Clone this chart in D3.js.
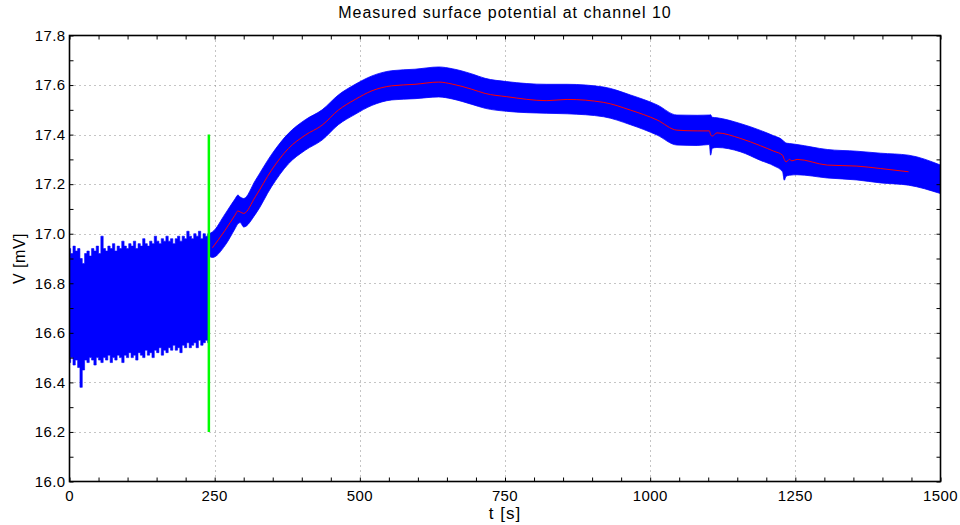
<!DOCTYPE html>
<html>
<head>
<meta charset="utf-8">
<script src="https://cdn.jsdelivr.net/npm/d3@7"></script>
<style>
  html, body { margin: 0; padding: 0; background: #fff; }
  svg { display: block; }
  text { font-family: "Liberation Sans", Helvetica, Arial, sans-serif; fill: #000; }
</style>
</head>
<body>
<svg id="chart" width="960" height="525"></svg>
<script>
// ---- Data ----
// Raw signal before the marker: sampled every 4 s, upper and lower envelope of the fast oscillation
const rawTime = d3.range(0, 241, 4);
const rawHigh = [16.94,16.92,16.95,16.93,16.94,16.90,16.88,16.92,16.93,16.91,16.94,16.93,16.95,16.92,16.99,16.94,
  16.93,16.95,16.94,16.96,16.93,16.95,16.94,16.97,16.95,16.94,16.96,16.95,16.97,16.94,16.96,16.95,16.98,16.96,16.95,
  16.97,16.96,16.99,16.97,16.96,16.98,16.97,16.99,16.97,16.98,16.96,16.98,16.99,16.97,16.99,16.98,17.01,16.99,16.98,
  17.00,16.99,17.01,16.98,17.00,16.99,17.00];
const rawLow = [16.48,16.50,16.47,16.49,16.46,16.38,16.45,16.49,16.48,16.50,16.49,16.47,16.50,16.49,16.48,16.50,
  16.49,16.51,16.48,16.50,16.49,16.51,16.50,16.48,16.51,16.50,16.52,16.50,16.51,16.49,16.52,16.51,16.50,16.53,16.51,
  16.52,16.50,16.53,16.52,16.54,16.51,16.53,16.52,16.54,16.53,16.55,16.53,16.54,16.52,16.55,16.54,16.56,16.54,16.55,
  16.56,16.54,16.57,16.55,16.56,16.57,16.56];

// Signal after the marker: envelope of the oscillation
const bandTime = [240,246,268,285,290,294,300,320,348,377,406,435,463,492,521,555,595,636,659,693,716,753,822,857,
  920,966,1012,1046,1081,1102,1104,1107,1115,1155,1190,1213,1228,1231,1234,1240,1253,1305,1356,1397,1445,1500];
const bandHigh = [17.000,17.007,17.080,17.140,17.156,17.148,17.142,17.215,17.320,17.405,17.460,17.500,17.560,17.603,
  17.637,17.658,17.664,17.673,17.666,17.645,17.627,17.614,17.603,17.603,17.592,17.560,17.520,17.479,17.478,17.479,
  17.480,17.470,17.468,17.445,17.417,17.395,17.378,17.371,17.366,17.364,17.360,17.340,17.333,17.325,17.317,17.277];
const bandLow = [16.910,16.904,16.953,17.020,17.040,17.045,17.027,17.078,17.190,17.282,17.337,17.378,17.440,17.482,
  17.518,17.540,17.545,17.552,17.544,17.522,17.506,17.494,17.486,17.484,17.472,17.440,17.398,17.358,17.356,17.360,
  17.317,17.345,17.348,17.331,17.296,17.274,17.250,17.216,17.232,17.236,17.238,17.225,17.217,17.205,17.196,17.162];

// Smoothed (mean) potential
const meanTime = [246,268,285,290,294,300,320,348,377,406,435,463,492,521,555,595,636,659,693,716,753,822,857,920,
  966,1012,1046,1081,1102,1104,1107,1115,1155,1190,1213,1228,1231,1234,1240,1244,1253,1305,1356,1397,1445];
const meanValue = [16.943,17.014,17.075,17.092,17.088,17.082,17.149,17.257,17.344,17.398,17.438,17.499,17.542,17.577,
  17.597,17.603,17.612,17.604,17.583,17.566,17.553,17.537,17.542,17.530,17.499,17.459,17.418,17.415,17.415,17.400,
  17.394,17.407,17.385,17.355,17.333,17.317,17.300,17.290,17.300,17.294,17.300,17.277,17.273,17.263,17.250];

// Marker line
const markerTime = 240;
const markerRange = [16.2, 17.4];

// Axes
const xTicks = [0, 250, 500, 750, 1000, 1250, 1500];
const yTicks = [16.0, 16.2, 16.4, 16.6, 16.8, 17.0, 17.2, 17.4, 17.6, 17.8];
const xMinor = d3.range(0, 1501, 50);
const yMinor = d3.range(160, 179, 1).map(v => v / 10);

const title = "Measured surface potential at channel 10";
const xLabel = "t [s]";
const yLabel = "V [mV]";

// ---- Layout ----
const L = 69.5, R = 940.5, T = 35.5, B = 481.5;
const svg = d3.select("#chart");
const x = d3.scaleLinear().domain([0, 1500]).range([L, R]);
const y = d3.scaleLinear().domain([16.0, 17.8]).range([B, T]);

// Grid (dotted)
const grid = svg.append("g").attr("stroke", "#8a8a8a").attr("stroke-width", 1).attr("stroke-dasharray", "1,4");
grid.selectAll("line.gx").data(xTicks.slice(1, -1)).join("line")
  .attr("x1", d => Math.round(x(d)) + 0.5).attr("x2", d => Math.round(x(d)) + 0.5)
  .attr("y1", T).attr("y2", B);
grid.selectAll("line.gy").data(yTicks.slice(1, -1)).join("line")
  .attr("x1", L).attr("x2", R)
  .attr("y1", d => Math.round(y(d)) + 0.5).attr("y2", d => Math.round(y(d)) + 0.5);

// Raw oscillating signal (dense vertical strokes -> stepped envelope)
const rawData = rawTime.map((t, i) => ({ t, hi: rawHigh[i], lo: rawLow[i] }));
svg.append("path").datum(rawData)
  .attr("fill", "#0000ff")
  .attr("stroke", "#0000ff").attr("stroke-width", 0.6)
  .attr("d", d3.area().curve(d3.curveStep).x(d => x(d.t)).y0(d => y(d.lo)).y1(d => y(d.hi)));

const bandData = bandTime.map((t, i) => ({ t, hi: bandHigh[i], lo: bandLow[i] }));
svg.append("path").datum(bandData)
  .attr("fill", "#0000ff")
  .attr("stroke", "#0000ff").attr("stroke-width", 0.8)
  .attr("d", d3.area().curve(d3.curveMonotoneX).x(d => x(d.t)).y0(d => y(d.lo)).y1(d => y(d.hi)));

// Mean line
const meanData = meanTime.map((t, i) => ({ t, v: meanValue[i] }));
svg.append("path").datum(meanData)
  .attr("fill", "none").attr("stroke", "#ff0000").attr("stroke-width", 1)
  .attr("d", d3.line().curve(d3.curveMonotoneX).x(d => x(d.t)).y(d => y(d.v)));

// Marker
svg.append("line")
  .attr("x1", x(markerTime)).attr("x2", x(markerTime))
  .attr("y1", y(markerRange[0])).attr("y2", y(markerRange[1]))
  .attr("stroke", "#00ff00").attr("stroke-width", 2.5);

// Axes with inward ticks on all four sides
const axisG = svg.append("g");
const tickLen = 4;
axisG.append("g").attr("transform", `translate(0,${B})`)
  .call(d3.axisBottom(x).tickValues(xMinor).tickSize(-tickLen).tickFormat(""));
axisG.append("g").attr("transform", `translate(0,${T})`)
  .call(d3.axisTop(x).tickValues(xMinor).tickSize(-tickLen).tickFormat(""));
axisG.append("g").attr("transform", `translate(${L},0)`)
  .call(d3.axisLeft(y).tickValues(yMinor).tickSize(-tickLen).tickFormat(""));
axisG.append("g").attr("transform", `translate(${R},0)`)
  .call(d3.axisRight(y).tickValues(yMinor).tickSize(-tickLen).tickFormat(""));
axisG.selectAll(".domain").remove();
axisG.selectAll(".tick line").attr("stroke", "#000").attr("stroke-width", 1);

// Outer box
svg.append("rect").attr("x", L).attr("y", T).attr("width", R - L).attr("height", B - T)
  .attr("fill", "none").attr("stroke", "#000").attr("stroke-width", 1.6);

// Tick labels
svg.append("g").selectAll("text").data(xTicks).join("text")
  .attr("x", d => x(d)).attr("y", 501)
  .attr("text-anchor", "middle").attr("font-size", 15).attr("letter-spacing", 0.4)
  .text(d => d3.format("d")(d));
svg.append("g").selectAll("text").data(yTicks).join("text")
  .attr("x", L - 4).attr("y", d => y(d)).attr("dy", "0.35em")
  .attr("text-anchor", "end").attr("font-size", 15).attr("letter-spacing", 0.4)
  .text(d => d3.format(".1f")(d));

// Titles
svg.append("text").attr("x", (L + R) / 2).attr("y", 18)
  .attr("text-anchor", "middle").attr("font-size", 16).attr("letter-spacing", 1).text(title);
svg.append("text").attr("x", (L + R) / 2).attr("y", 519)
  .attr("text-anchor", "middle").attr("font-size", 17).attr("letter-spacing", 1).text(xLabel);
svg.append("text").attr("transform", `translate(25,${(T + B) / 2}) rotate(-90)`)
  .attr("text-anchor", "middle").attr("font-size", 16).attr("letter-spacing", 0.5).text(yLabel);
</script>
</body>
</html>
